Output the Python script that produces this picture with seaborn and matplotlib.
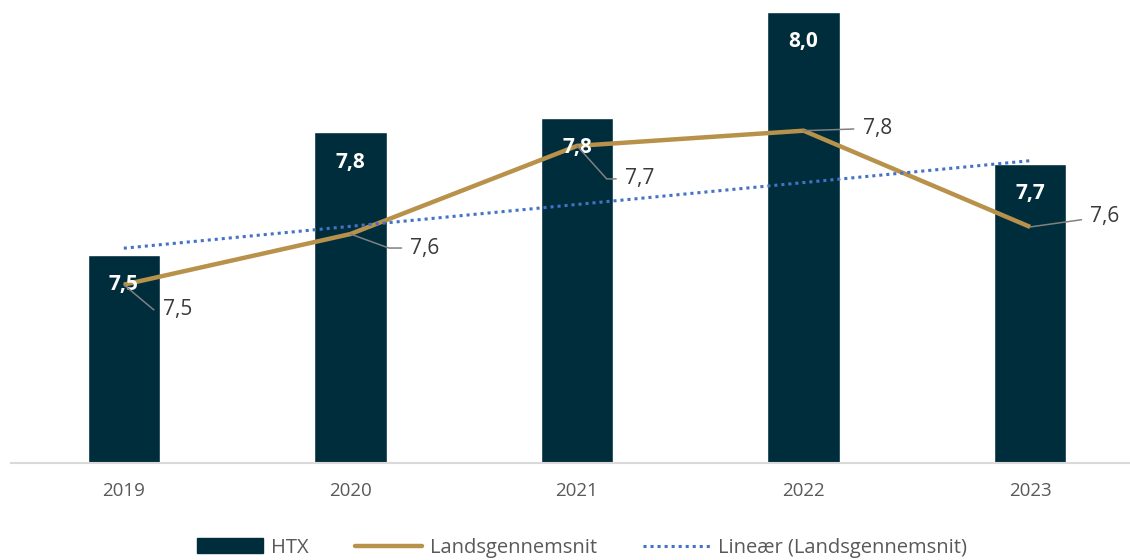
import numpy as np
import matplotlib
matplotlib.use("Agg")
import matplotlib.pyplot as plt
from matplotlib.patches import Patch
from matplotlib.lines import Line2D
import seaborn as sns

# ---- data ----
years = ["2019", "2020", "2021", "2022", "2023"]
htx = [7.51, 7.752, 7.78, 7.99, 7.69]
landsgennemsnit = [7.451, 7.551, 7.725, 7.755, 7.565]
series_names = ["HTX", "Landsgennemsnit", "Lineær (Landsgennemsnit)"]

# ---- style ----
BAR_C = "#002D3C"
GOLD = "#B8914B"
BLUE = "#4472C4"
TXT = "#3A3A3A"
TICK = "#595959"

sns.set_theme(style="white")
plt.rcParams["font.family"] = ["Open Sans", "DejaVu Sans"]

fig = plt.figure(figsize=(11.3, 5.6), dpi=100)
W, H = 1130, 560
ax = fig.add_axes([10.5 / W, (H - 463) / H, 1133 / W, 463 / H])

x = np.arange(len(years))
sns.barplot(x=years, y=htx, color=BAR_C, saturation=1, width=0.32, ax=ax)
sns.lineplot(x=x, y=landsgennemsnit, color=GOLD, lw=3.2, ax=ax,
             solid_capstyle="butt", solid_joinstyle="miter")
coef = np.polyfit(x, landsgennemsnit, 1)
ax.plot(x, np.polyval(coef, x), color=BLUE, lw=2.2, linestyle=(0, (1, 1.3)),
        dash_capstyle="butt")

ax.set_xlim(-0.5, 4.5)
ax.set_ylim(7.099, 8.013)
ax.set_yticks([])
ax.set_xlabel("")
ax.set_ylabel("")
for s in ["top", "right", "left"]:
    ax.spines[s].set_visible(False)
ax.spines["bottom"].set_color("#D9D9D9")
ax.spines["bottom"].set_linewidth(1.5)
ax.tick_params(axis="x", length=0, pad=14, labelsize=13.5, labelcolor=TICK)

fmt = lambda v: f"{v:.1f}".replace(".", ",")

# bar labels
for xi, v in zip(x, htx):
    ax.annotate(fmt(v), (xi, v), xytext=(0, -21.5), textcoords="offset points",
                ha="center", va="center", color="white", fontsize=15,
                fontweight="bold")

# line labels with leader lines (offsets in px: text-left dx, text-center dy; leader angle)
label_layout = [(39, -25, -40), (60, -14, -20), (48, -33, -48), (59, 2, None), (60, 10, 8)]
for xi, v, (dx, dy, ang) in zip(x, landsgennemsnit, label_layout):
    cs = "arc3" if ang is None else f"angle,angleA=0,angleB={ang},rad=0"
    ax.annotate(fmt(v), (xi, v), xytext=(dx * 0.72, dy * 0.72),
                textcoords="offset points", ha="left", va="center",
                color=TXT, fontsize=15,
                arrowprops=dict(arrowstyle="-", color="#808080", lw=1.1,
                                connectionstyle=cs, relpos=(0, 0.5),
                                shrinkA=4, shrinkB=0))

handles = [
    Patch(facecolor=BAR_C, edgecolor=BAR_C),
    Line2D([], [], color=GOLD, lw=3.2),
    Line2D([], [], color=BLUE, lw=2.2, linestyle=(0, (1, 1.3))),
]
fig.legend(handles, series_names, loc="lower center", bbox_to_anchor=(0.515, -0.028),
           ncol=3, frameon=False, fontsize=14.5, handlelength=3.3,
           columnspacing=2.3, handletextpad=0.4, labelcolor=TICK)

fig.savefig("out.png", dpi=100)
